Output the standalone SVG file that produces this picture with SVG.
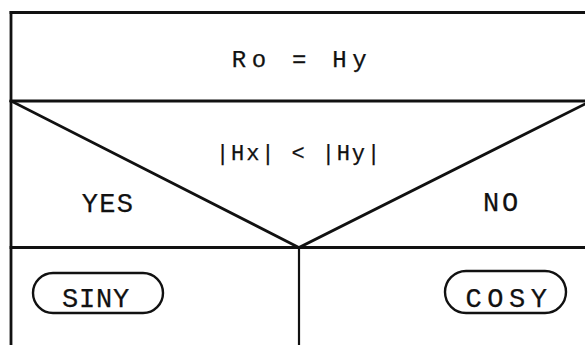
<svg xmlns="http://www.w3.org/2000/svg" width="585" height="345" viewBox="0 0 585 345">
  <style>
    .ln { stroke: #111; stroke-width: 2.8; fill: none; stroke-linecap: square; }
    .thin { stroke: #111; stroke-width: 2.2; fill: none; }
    .term { stroke: #111; stroke-width: 2.4; fill: #fff; }
    .t { font-family: "Liberation Mono", "Courier New", monospace; fill: #111; stroke: #111; stroke-width: 0.25; text-anchor: middle; }
  </style>
  <rect x="0" y="0" width="585" height="345" fill="#fff"/>

  <g id="process">
    <line class="ln" x1="11" y1="12.5" x2="590" y2="12.5"/>
    <line class="ln" x1="11" y1="12.5" x2="11" y2="350"/>
    <text class="t" x="302" y="67" font-size="24" letter-spacing="5.7">Ro = Hy</text>
  </g>

  <g id="decision">
    <line class="ln" x1="11" y1="101" x2="590" y2="101"/>
    <line class="ln" x1="11" y1="247.5" x2="590" y2="247.5"/>
    <text class="t" x="299" y="160" font-size="22" letter-spacing="1.9">|Hx| &lt; |Hy|</text>
    <text class="t" x="108" y="212" font-size="27" letter-spacing="1.3">YES</text>
    <text class="t" x="502" y="211" font-size="27" letter-spacing="2.8">NO</text>
  </g>

  <g id="connectors">
    <line class="ln" x1="11" y1="101" x2="299" y2="247.5"/>
    <line class="ln" x1="299" y1="247.5" x2="591" y2="101"/>
    <line class="thin" x1="299" y1="247.5" x2="299" y2="350"/>
  </g>

  <g id="siny">
    <rect class="term" x="33" y="273" width="130" height="40" rx="20" ry="20"/>
    <text class="t" x="96" y="307" font-size="27" letter-spacing="0.8">SINY</text>
  </g>

  <g id="cosy">
    <rect class="term" x="445" y="271" width="121" height="42" rx="21" ry="21"/>
    <text class="t" x="509" y="307" font-size="27" letter-spacing="5.5">COSY</text>
  </g>
</svg>
